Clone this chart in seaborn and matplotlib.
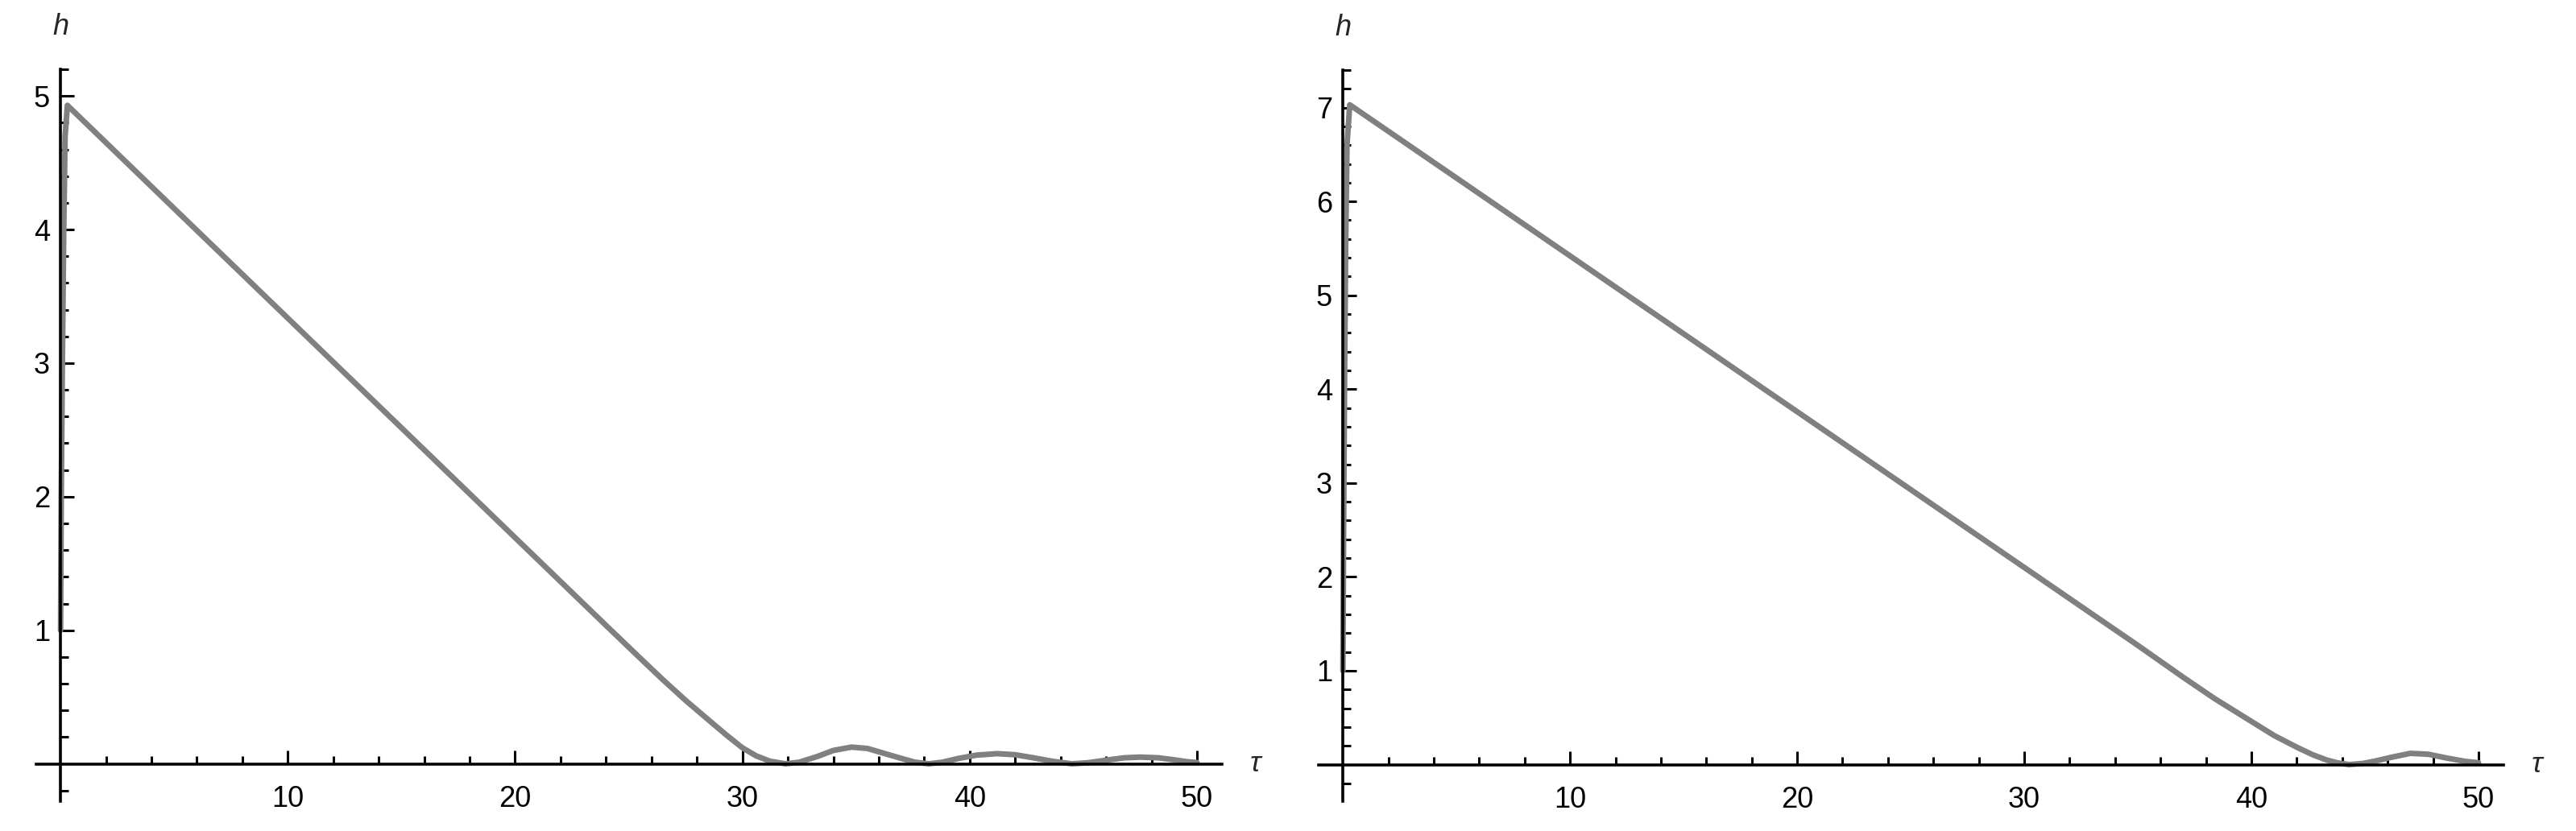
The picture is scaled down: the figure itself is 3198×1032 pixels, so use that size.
import matplotlib
matplotlib.use("Agg")
import matplotlib.pyplot as plt
from matplotlib.ticker import FixedLocator, NullFormatter
import numpy as np
import pandas as pd
import seaborn as sns

# === data ===
# left panel
TAU_A = [0, 0.03, 0.08, 0.14, 0.2, 0.3, 5, 10, 15, 20, 24, 25.6, 26.5, 27.5,
         28.5, 29.3, 30.0, 30.6, 31.2, 31.9, 32.5, 33.3, 34.0, 34.8, 35.5,
         36.2, 37.0, 37.6, 38.2, 38.8, 39.5, 40.3, 41.2, 42.0, 42.8, 43.6,
         44.5, 45.2, 46.0, 46.8, 47.5, 48.3, 49.0, 49.6, 50.0]
H_A = [1.0, 2.0, 3.0, 4.0, 4.7, 4.93, 4.157, 3.336, 2.515, 1.693, 1.036,
       0.775, 0.63, 0.475, 0.33, 0.215, 0.12, 0.06, 0.02, 0.0, 0.012, 0.055,
       0.1, 0.125, 0.115, 0.08, 0.04, 0.012, 0.0, 0.012, 0.04, 0.065, 0.076,
       0.068, 0.045, 0.02, 0.0, 0.008, 0.027, 0.045, 0.05, 0.045, 0.03, 0.015,
       0.01]

# right panel
TAU_B = [0, 0.03, 0.07, 0.12, 0.18, 0.3, 5, 10, 15, 20, 25, 30, 35, 37, 38.4,
         40, 41, 42, 42.7, 43.3, 43.8, 44.3, 44.9, 45.4, 46.2, 47.0, 47.8,
         48.6, 49.4, 50]
H_B = [1.0, 2.5, 4.0, 5.5, 6.6, 7.03, 6.25, 5.42, 4.59, 3.76, 2.93, 2.10,
       1.27, 0.93, 0.70, 0.46, 0.31, 0.185, 0.105, 0.05, 0.018, 0.0, 0.012,
       0.035, 0.08, 0.12, 0.11, 0.07, 0.035, 0.02]

Y_TICKS_A = [1, 2, 3, 4, 5]
Y_TICKS_B = [1, 2, 3, 4, 5, 6, 7]
X_TICKS = [10, 20, 30, 40, 50]

# === style ===
sns.set_style("ticks")
plt.rcParams["font.family"] = ["Liberation Sans", "DejaVu Sans"]

LINE_COLOR = "#808080"
FS = 26

fig = plt.figure(figsize=(31.98, 10.32), dpi=100)
W, H = 3198.0, 1032.0


def make_axes(left_px, right_px, top_px, bottom_px):
    return fig.add_axes([left_px / W, 1 - bottom_px / H,
                         (right_px - left_px) / W, (bottom_px - top_px) / H])


panels = [
    (make_axes(45, 1517, 86, 995), TAU_A, H_A, (-0.28, 5.2), Y_TICKS_A),
    (make_axes(1637, 3108, 87, 995), TAU_B, H_B, (-0.39, 7.4), Y_TICKS_B),
]

for ax, tau, h, ylim, yt in panels:
    df = pd.DataFrame({"tau": tau, "h": h})
    sns.lineplot(data=df, x="tau", y="h", ax=ax, color=LINE_COLOR,
                 linewidth=5, estimator=None, solid_capstyle="round",
                 solid_joinstyle="round")
    ax.set_xlim(-1.07, 51.1)
    ax.set_ylim(*ylim)
    ax.set_xlabel("")
    ax.set_ylabel("")

    for s in ["top", "right"]:
        ax.spines[s].set_visible(False)
    ax.spines["left"].set_position(("data", 0))
    ax.spines["bottom"].set_position(("data", 0))
    for s in ["left", "bottom"]:
        ax.spines[s].set_linewidth(2.6)
        ax.spines[s].set_color("black")
        ax.spines[s].set_zorder(3)

    ax.xaxis.set_major_locator(FixedLocator(X_TICKS))
    ax.xaxis.set_minor_locator(FixedLocator([v for v in np.arange(2, 51, 2) if v % 10 != 0]))
    ax.yaxis.set_major_locator(FixedLocator(yt))
    ymin_minor = [round(v, 1) for v in np.arange(-0.2, ylim[1] + 0.001, 0.2)
                  if abs(v - round(v)) > 1e-6]
    ax.yaxis.set_minor_locator(FixedLocator(ymin_minor))
    ax.yaxis.set_minor_formatter(NullFormatter())
    ax.xaxis.set_minor_formatter(NullFormatter())

    ax.tick_params(which="both", direction="in", color="black", width=2.2,
                   labelsize=FS, labelcolor="black", bottom=True, left=True,
                   top=False, right=False)
    ax.tick_params(which="major", length=12.2)
    ax.tick_params(which="minor", length=7.2)
    ax.tick_params(axis="x", which="major", pad=19)
    ax.tick_params(axis="y", which="major", pad=9.5)
    ax.grid(False)

    # axis names
    ax.annotate("h", xy=(0, 1), xycoords=ax.get_xaxis_transform(),
                xytext=(0, 38), textcoords="offset points", ha="center",
                va="center", fontsize=FS, style="italic")
    ax.annotate("τ", xy=(1, 0), xycoords=ax.get_yaxis_transform(),
                xytext=(30, 0), textcoords="offset points", ha="center",
                va="center", fontsize=FS, style="italic")

fig.savefig("out.png", dpi=100, facecolor="white")
